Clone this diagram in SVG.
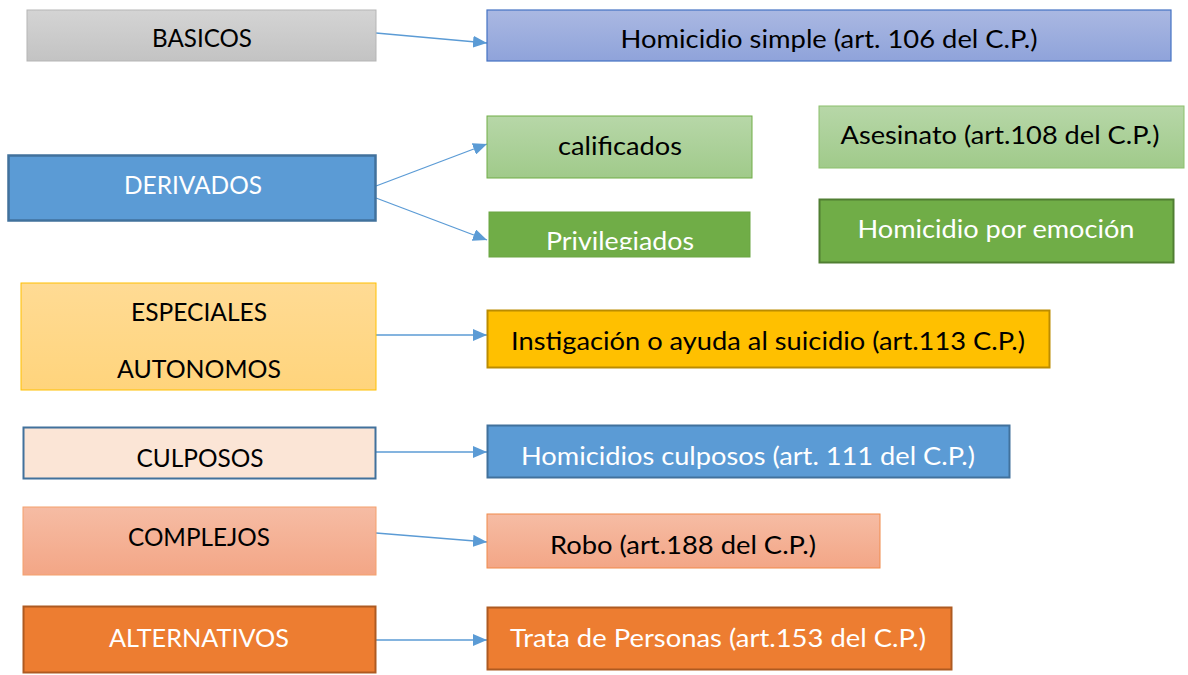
<svg xmlns="http://www.w3.org/2000/svg" width="1188" height="675" viewBox="0 0 1188 675">
<style>
text{font-family:Lato,"Open Sans","Liberation Sans",sans-serif;font-size:25px;text-anchor:middle}
.dk{fill:#000}
.wt{fill:#fff}
.conn line{stroke:#5b9bd5;stroke-width:1.3;fill:none}
</style>
<defs>
<linearGradient id="gGray" x1="0" y1="0" x2="0" y2="1"><stop offset="0" stop-color="#d4d4d4"/><stop offset="1" stop-color="#c3c3c3"/></linearGradient>
<linearGradient id="gBlueL" x1="0" y1="0" x2="0" y2="1"><stop offset="0" stop-color="#aab8e2"/><stop offset="1" stop-color="#8fa3da"/></linearGradient>
<linearGradient id="gGreenL" x1="0" y1="0" x2="0" y2="1"><stop offset="0" stop-color="#b7d7a8"/><stop offset="1" stop-color="#a0ca8a"/></linearGradient>
<linearGradient id="gYel" x1="0" y1="0" x2="0" y2="1"><stop offset="0" stop-color="#ffdb94"/><stop offset="1" stop-color="#ffd47c"/></linearGradient>
<linearGradient id="gSal" x1="0" y1="0" x2="0" y2="1"><stop offset="0" stop-color="#f6bca4"/><stop offset="1" stop-color="#f3a686"/></linearGradient>
<marker id="arr" viewBox="0 0 14 12" refX="14" refY="6" markerWidth="14" markerHeight="12" markerUnits="userSpaceOnUse" orient="auto"><path d="M0,0 L14,6 L0,12 z" fill="#5b9bd5"/></marker>
<clipPath id="clipPriv"><rect x="489" y="212" width="261" height="38"/></clipPath>
</defs>

<g class="conn" id="connectors">
<line x1="376" y1="33" x2="487" y2="43" marker-end="url(#arr)"/>
<line x1="376" y1="186" x2="487" y2="144" marker-end="url(#arr)"/>
<line x1="376" y1="198" x2="487" y2="240" marker-end="url(#arr)"/>
<line x1="376" y1="335" x2="487" y2="335" marker-end="url(#arr)"/>
<line x1="376" y1="452" x2="487" y2="452" marker-end="url(#arr)"/>
<line x1="376" y1="533" x2="487" y2="542" marker-end="url(#arr)"/>
<line x1="376" y1="640" x2="487" y2="640" marker-end="url(#arr)"/>
</g>

<g id="basicos"><rect x="27" y="10" width="349" height="51" fill="url(#gGray)" stroke="#b5b5b5" stroke-width="1"/><text class="dk" x="202" y="47" textLength="100" lengthAdjust="spacingAndGlyphs">BASICOS</text></g>
<g id="homicidio-simple"><rect x="487" y="10" width="684" height="51" fill="url(#gBlueL)" stroke="#4472c4" stroke-width="1.2"/><text class="dk" x="829" y="48" textLength="417" lengthAdjust="spacingAndGlyphs">Homicidio simple (art. 106 del C.P.)</text></g>

<g id="derivados"><rect x="8.5" y="155.5" width="367" height="65" fill="#5b9bd5" stroke="#41719c" stroke-width="2.5"/><text class="wt" x="193" y="194" textLength="138" lengthAdjust="spacingAndGlyphs">DERIVADOS</text></g>
<g id="calificados"><rect x="487" y="116" width="265" height="62" fill="url(#gGreenL)" stroke="#70ad47" stroke-width="1"/><text class="dk" x="620" y="155" textLength="124" lengthAdjust="spacingAndGlyphs">calificados</text></g>
<g id="privilegiados"><rect x="489" y="212" width="261" height="45" fill="#70ad47" stroke="#6aa542" stroke-width="1"/><text class="wt" x="620" y="250" textLength="148" lengthAdjust="spacingAndGlyphs" clip-path="url(#clipPriv)">Privilegiados</text></g>
<g id="asesinato"><rect x="819" y="106" width="365" height="62" fill="url(#gGreenL)" stroke="#8cc06c" stroke-width="1"/><text class="dk" x="1000" y="144" textLength="319" lengthAdjust="spacingAndGlyphs">Asesinato (art.108 del C.P.)</text></g>
<g id="emocion"><rect x="819.5" y="199.5" width="354" height="63" fill="#70ad47" stroke="#507e32" stroke-width="2"/><text class="wt" x="996" y="238" textLength="277" lengthAdjust="spacingAndGlyphs">Homicidio por emoción</text></g>

<g id="especiales"><rect x="21" y="283" width="355" height="107" fill="url(#gYel)" stroke="#ffc000" stroke-width="1"/><text class="dk" x="199" y="321" textLength="136" lengthAdjust="spacingAndGlyphs">ESPECIALES</text><text class="dk" x="199" y="378" textLength="164" lengthAdjust="spacingAndGlyphs">AUTONOMOS</text></g>
<g id="instigacion"><rect x="487.5" y="310.5" width="562" height="57" fill="#ffc000" stroke="#bc8c00" stroke-width="2"/><text class="dk" x="768" y="350" textLength="514" lengthAdjust="spacingAndGlyphs">Instigación o ayuda al suicidio (art.113 C.P.)</text></g>

<g id="culposos"><rect x="23.5" y="427.5" width="352" height="51" fill="#fbe5d6" stroke="#41719c" stroke-width="2"/><text class="dk" x="200" y="467" textLength="127" lengthAdjust="spacingAndGlyphs">CULPOSOS</text></g>
<g id="homicidios-culposos"><rect x="487.5" y="425.5" width="522" height="52" fill="#5b9bd5" stroke="#41719c" stroke-width="2"/><text class="wt" x="748" y="465" textLength="454" lengthAdjust="spacingAndGlyphs">Homicidios culposos (art. 111 del C.P.)</text></g>

<g id="complejos"><rect x="23" y="507" width="353" height="68" fill="url(#gSal)" stroke="#f4a06c" stroke-width="1"/><text class="dk" x="199" y="546" textLength="142" lengthAdjust="spacingAndGlyphs">COMPLEJOS</text></g>
<g id="robo"><rect x="487" y="514" width="393" height="54" fill="url(#gSal)" stroke="#f08a4b" stroke-width="1"/><text class="dk" x="683" y="554" textLength="266" lengthAdjust="spacingAndGlyphs">Robo (art.188 del C.P.)</text></g>

<g id="alternativos"><rect x="23.5" y="606.5" width="352" height="66" fill="#ed7d31" stroke="#ae5a21" stroke-width="2"/><text class="wt" x="199" y="647" textLength="180" lengthAdjust="spacingAndGlyphs">ALTERNATIVOS</text></g>
<g id="trata"><rect x="487.5" y="607.5" width="464" height="62" fill="#ed7d31" stroke="#ae5a21" stroke-width="2"/><text class="wt" x="718" y="647" textLength="416" lengthAdjust="spacingAndGlyphs">Trata de Personas (art.153 del C.P.)</text></g>
</svg>
